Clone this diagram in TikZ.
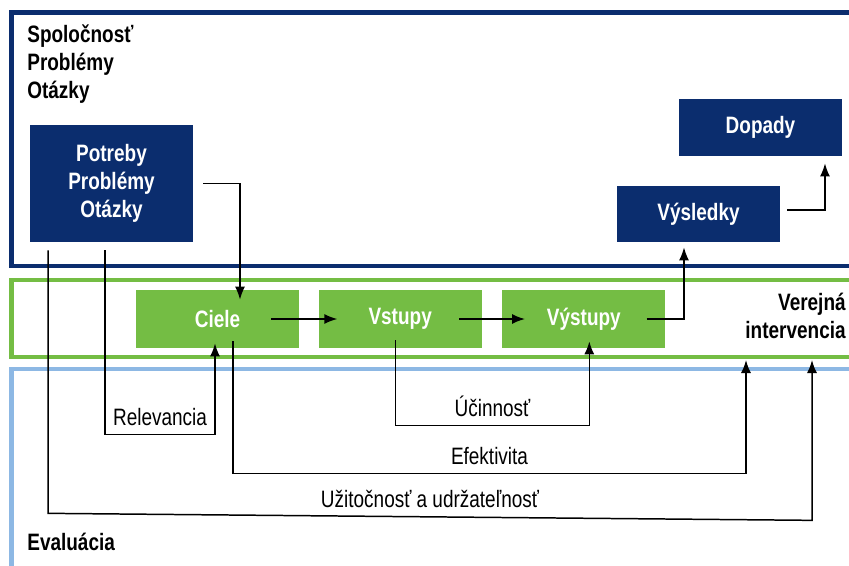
\documentclass[tikz,border=0pt]{standalone}
\usepackage{fontspec}
\setmainfont{Liberation Sans}[FakeStretch=0.8]
\usepackage{tikz}
\usetikzlibrary{arrows.meta,positioning,calc}
\definecolor{evalnavy}{HTML}{0B2D6E}
\definecolor{evalgreen}{HTML}{74BD44}
\definecolor{evalsky}{HTML}{8DB8E4}

\begin{document}
\begin{tikzpicture}[
  x=0.02cm, y=-0.02cm,
  font=\fontsize{13.5}{16}\selectfont,
  navybox/.style={fill=evalnavy, text=white, font=\fontsize{13.5}{16}\selectfont\bfseries, minimum width=3.26cm, align=center, inner sep=0pt},
  greenbox/.style={fill=evalgreen, text=white, font=\fontsize{13.5}{16}\selectfont\bfseries, minimum width=3.26cm, minimum height=1.16cm, inner sep=0pt},
  zone/.style={line width=2.4pt},
  title/.style={font=\fontsize{13.5}{16}\selectfont\bfseries, align=left, inner sep=0pt},
  crit/.style={above, inner sep=4.5pt},
  arrow/.style={-{Latex[length=2.6mm,width=2mm]}, line width=0.85pt}
]
\useasboundingbox (0,0) rectangle (849,565);
\fill[white] (0,0) rectangle (849,565);

\draw[zone, draw=evalnavy] (860,12.5) -| (11.5,266) -- (860,266);
\draw[zone, draw=evalgreen] (860,280) -| (11.5,357) -- (860,357);
\draw[zone, draw=evalsky] (860,369) -| (11.5,580);

\node[title, anchor=north west] (spol) at (27,24) {Spoločnosť\\Problémy\\Otázky};
\node[title, anchor=east, align=right] (verejna) at (846,316) {Verejná\\intervencia};
\node[title, anchor=base west] (evaluacia) at (27,550) {Evaluácia};

\node[navybox, minimum height=2.34cm] (potreby) at (111.5,183.5) {Potreby\\Problémy\\Otázky};
\node[navybox, minimum height=1.14cm] (dopady) at (760.5,127.5) {Dopady};
\node[navybox, minimum height=1.12cm] (vysledky) at (698.5,214) {Výsledky};
\node[greenbox] (ciele) at (217.5,319) {Ciele};
\node[greenbox, right=0.38cm of ciele] (vstupy) {Vstupy};
\node[greenbox, right=0.4cm of vstupy] (vystupy) {Výstupy};

\coordinate (efEnd) at (746,360);
\coordinate (uzEnd) at (812,360);

\draw[arrow] ([xshift=0.2cm]potreby.east) -| ([xshift=0.45cm,yshift=-0.2cm]ciele.north);
\draw[arrow] ([xshift=-0.56cm]ciele.east) -- ([xshift=0.38cm]vstupy.west);
\draw[arrow] ([xshift=-0.46cm]vstupy.east) -- ([xshift=0.46cm]vystupy.west);
\draw[arrow] ([xshift=-0.38cm]vystupy.east) -| ([xshift=-0.29cm,yshift=-0.1cm]vysledky.south);
\draw[arrow] ([xshift=0.14cm,yshift=0.08cm]vysledky.east) -| ([xshift=1.29cm,yshift=-0.14cm]dopady.south);

\draw[arrow] ([xshift=-0.13cm,yshift=-0.16cm]potreby.south) -- ++(0,184)
  -| node[crit, pos=0.25] (relevancia) {Relevancia} ([xshift=-0.05cm,yshift=0.1cm]ciele.south);
\draw[arrow] ([xshift=-0.09cm,yshift=0.16cm]vstupy.south) -- ++(0,85)
  -| node[crit, pos=0.25] (ucinnost) {Účinnosť} ([xshift=0.11cm,yshift=0.14cm]vystupy.south);
\draw[arrow] ([xshift=0.31cm,yshift=0.14cm]ciele.south) -- ++(0,132)
  -| node[crit, pos=0.25] (efektivita) {Efektivita} (efEnd);
\draw[arrow] ([xshift=-1.27cm,yshift=-0.16cm]potreby.south) -- ++(0,263)
  -- node[crit, midway] (uzitocnost) {Užitočnosť a udržateľnosť} ++(764,7) -- (uzEnd);
\end{tikzpicture}
\end{document}
